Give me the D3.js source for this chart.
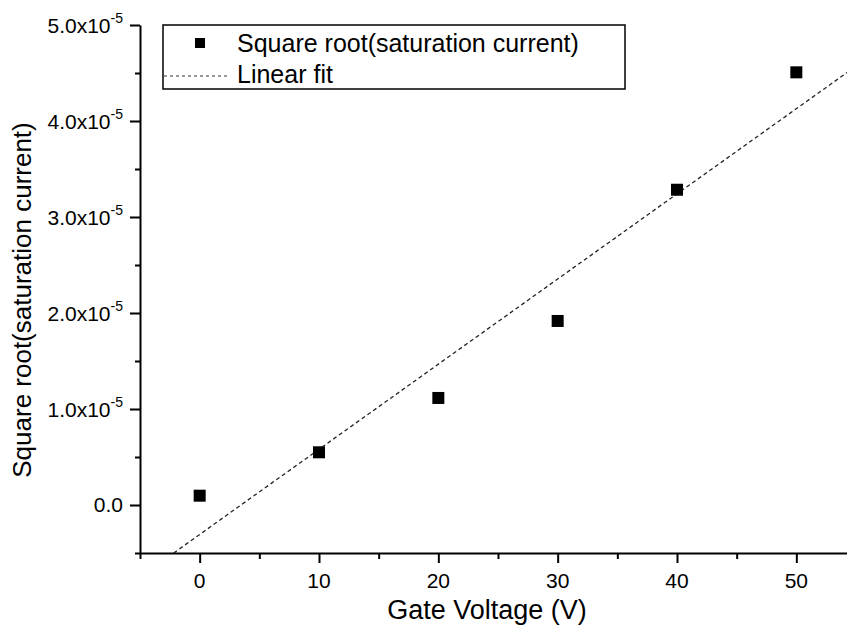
<!DOCTYPE html>
<html lang="en">
<head>
  <meta charset="UTF-8">
  <title>Square root saturation current vs gate voltage</title>
  <script src="https://d3js.org/d3.v7.min.js"></script>
  <style>
    body {
      margin: 0;
      padding: 0;
      background: #fff;
    }
    svg text {
      font-family: "Liberation Sans", Arial, sans-serif;
      fill: #000;
    }
  </style>
</head>
<body>
  <svg id="chart" width="847" height="635"></svg>

  <script>
    // measured data (gate voltage in V, sqrt of saturation current)
    const voltage = [0, 10, 20, 30, 40, 50];
    const sqrtCurrent = [0.097e-5, 0.549e-5, 1.115e-5, 1.917e-5, 3.284e-5, 4.507e-5];

    // linear fit
    const fitSlope = 0.0887e-5;
    const fitIntercept = -0.307e-5;

    const xMajorTicks = [0, 10, 20, 30, 40, 50];
    const xMinorTicks = [-5, 5, 15, 25, 35, 45, 55];
    const yMajorTicks = [0, 1e-5, 2e-5, 3e-5, 4e-5, 5e-5];
    const yMinorTicks = [-0.5e-5, 0.5e-5, 1.5e-5, 2.5e-5, 3.5e-5, 4.5e-5];
    const yTickMantissa = ["0.0", "1.0x10", "2.0x10", "3.0x10", "4.0x10", "5.0x10"];
    const yTickExponent = ["", "-5", "-5", "-5", "-5", "-5"];

    const legendLabels = ["Square root(saturation current)", "Linear fit"];

    const svg = d3.select("#chart");
    const plotLeft = 140, plotRight = 856, plotTop = 25, plotBottom = 553;

    const x = d3.scaleLinear().domain([-5, 55]).range([plotLeft, plotRight]);
    const y = d3.scaleLinear().domain([-0.5e-5, 5e-5]).range([plotBottom, plotTop]);

    svg.append("defs").append("clipPath").attr("id", "plot-clip")
      .append("rect")
      .attr("x", plotLeft).attr("y", plotTop)
      .attr("width", plotRight - plotLeft).attr("height", plotBottom - plotTop);

    // fit line
    const fitX = [(y.domain()[0] - fitIntercept) / fitSlope, x.domain()[1]];
    svg.append("g").attr("clip-path", "url(#plot-clip)")
      .append("path")
      .datum(fitX)
      .attr("d", d3.line().x(d => x(d)).y(d => y(fitIntercept + fitSlope * d)))
      .attr("fill", "none")
      .attr("stroke", "#222")
      .attr("stroke-width", 1.3)
      .attr("stroke-dasharray", "4,3");

    // markers
    const ms = 12;
    svg.append("g")
      .selectAll("rect")
      .data(voltage)
      .join("rect")
      .attr("x", d => x(d) - ms / 2)
      .attr("y", (d, i) => y(sqrtCurrent[i]) - ms / 2)
      .attr("width", ms)
      .attr("height", ms)
      .attr("fill", "#000");

    // x axis
    const gx = svg.append("g").attr("transform", `translate(0,${plotBottom})`);
    gx.call(d3.axisBottom(x).tickValues(xMajorTicks).tickSize(10).tickSizeOuter(0).tickFormat(""));
    gx.append("g").call(d3.axisBottom(x).tickValues(xMinorTicks).tickSize(6).tickSizeOuter(0).tickFormat(""))
      .select(".domain").remove();
    gx.selectAll("path.domain").attr("stroke-width", 2);
    gx.selectAll(".tick line").attr("stroke-width", 2);

    svg.append("g")
      .selectAll("text")
      .data(xMajorTicks)
      .join("text")
      .attr("x", d => x(d))
      .attr("y", plotBottom + 35)
      .attr("text-anchor", "middle")
      .attr("font-size", 21)
      .text(d => d);

    // y axis
    const gy = svg.append("g").attr("transform", `translate(${plotLeft},0)`);
    gy.call(d3.axisLeft(y).tickValues(yMajorTicks).tickSize(10).tickSizeOuter(0).tickFormat(""));
    gy.append("g").call(d3.axisLeft(y).tickValues(yMinorTicks).tickSize(5).tickSizeOuter(0).tickFormat(""))
      .select(".domain").remove();
    gy.selectAll("path.domain").attr("stroke-width", 2);
    gy.selectAll(".tick line").attr("stroke-width", 2);

    const yl = svg.append("g")
      .selectAll("text")
      .data(yMajorTicks)
      .join("text")
      .attr("x", 123)
      .attr("y", (d, i) => y(d) + (yTickExponent[i] ? 8 : 7))
      .attr("text-anchor", "end")
      .attr("font-size", 21);
    yl.append("tspan").text((d, i) => yTickMantissa[i]);
    yl.filter((d, i) => yTickExponent[i])
      .append("tspan")
      .attr("dy", -10)
      .attr("font-size", 14)
      .text(d => yTickExponent[yMajorTicks.indexOf(d)]);

    // axis titles
    svg.append("text")
      .attr("x", 487)
      .attr("y", 619)
      .attr("text-anchor", "middle")
      .attr("font-size", 27)
      .text("Gate Voltage (V)");

    svg.append("text")
      .attr("transform", "translate(31,300) rotate(-90)")
      .attr("text-anchor", "middle")
      .attr("font-size", 26)
      .text("Square root(saturation current)");

    // legend
    const lg = svg.append("g");
    lg.append("rect")
      .attr("x", 163).attr("y", 25)
      .attr("width", 462).attr("height", 64)
      .attr("fill", "#fff")
      .attr("stroke", "#000")
      .attr("stroke-width", 1.5);
    lg.append("rect")
      .attr("x", 195).attr("y", 38)
      .attr("width", 10).attr("height", 10)
      .attr("fill", "#000");
    lg.append("line")
      .attr("x1", 164).attr("x2", 228)
      .attr("y1", 76).attr("y2", 76)
      .attr("stroke", "#333")
      .attr("stroke-width", 1.2)
      .attr("stroke-dasharray", "3,3");
    lg.selectAll("text.leg")
      .data(legendLabels)
      .join("text")
      .attr("class", "leg")
      .attr("x", 237)
      .attr("y", (d, i) => 52 + i * 31)
      .attr("font-size", 25)
      .text(d => d);
  </script>
</body>
</html>
